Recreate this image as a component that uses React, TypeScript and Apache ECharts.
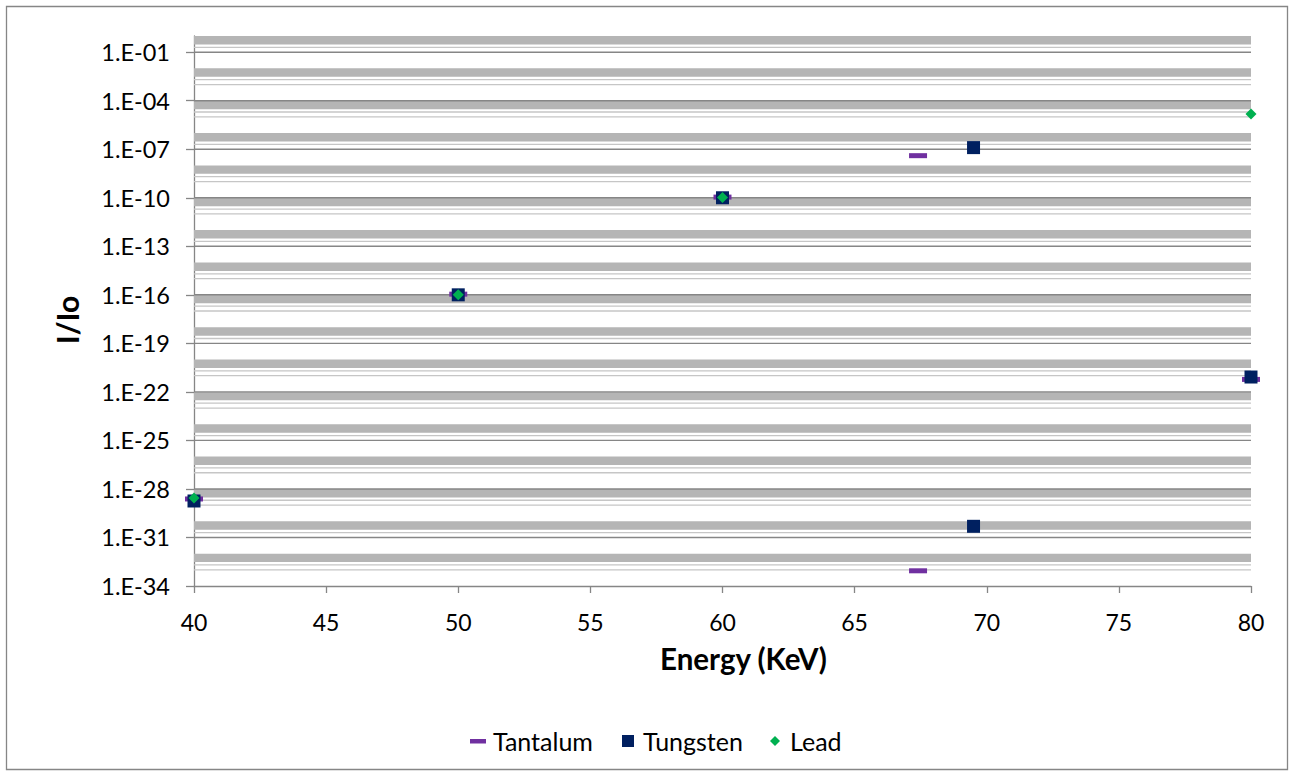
import React, { useEffect, useRef } from 'react';
import * as echarts from 'echarts';

// ---- data ----
const TANTALUM_ENERGY = [40, 50, 60, 67.4, 67.4, 80];
const TANTALUM_RATIO = [2.4e-29, 1.1e-16, 1.1e-10, 4.0e-8, 8.7e-34, 5.9e-22];
const TUNGSTEN_ENERGY = [40, 50, 60, 69.5, 69.5, 80];
const TUNGSTEN_RATIO = [1.8e-29, 1.0e-16, 1.0e-10, 1.26e-7, 4.9e-31, 8.3e-22];
const LEAD_ENERGY = [40, 50, 60, 80];
const LEAD_RATIO = [2.8e-29, 1.0e-16, 1.05e-10, 1.5e-5];

const Y_TICK_LABELS = [
  '1.E-34', '1.E-31', '1.E-28', '1.E-25', '1.E-22', '1.E-19',
  '1.E-16', '1.E-13', '1.E-10', '1.E-07', '1.E-04', '1.E-01',
];
const Y_TICK_VALUES = Y_TICK_LABELS.map((s) => Number(s));
const SERIES_NAMES = ['Tantalum', 'Tungsten', 'Lead'];

const FONT = 'Lato';
const AXIS_GRAY = '#868686';

function pairs(xs: number[], ys: number[]) {
  return xs.map((x, i) => [x, ys[i]]);
}

function expOf(v: number) {
  return Math.round(Math.log10(v));
}

function hLineSeries(name: string, values: number[], color: string, width: number, z: number) {
  return {
    name,
    type: 'custom',
    silent: true,
    z,
    clip: false,
    data: values.map((v) => [40, v]),
    renderItem: (params: any, api: any) => {
      const p = api.coord([api.value(0), api.value(1)]);
      const cs = params.coordSys;
      return {
        type: 'line',
        shape: { x1: cs.x, y1: p[1], x2: cs.x + cs.width, y2: p[1] },
        style: { stroke: color, lineWidth: width, fill: null },
      };
    },
  };
}

export default function App() {
  const ref = useRef<HTMLDivElement>(null);

  useEffect(() => {
    if (!ref.current) return;
    const chart = echarts.init(ref.current, undefined, { renderer: 'svg' });

    // Excel-style minor gridlines (log axis): dense band + two lighter lines every 2 decades
    const majorExps = Y_TICK_VALUES.map(expOf);
    const bandAreas: any[] = [];
    const lightLines: number[] = [];
    for (let e = 0; e >= -32; e -= 2) {
      bandAreas.push([{ yAxis: Math.pow(10, e) }, { yAxis: 3 * Math.pow(10, e - 1) }]);
      lightLines.push(2 * Math.pow(10, e - 1));
      if (majorExps.indexOf(e - 1) < 0) lightLines.push(Math.pow(10, e - 1));
    }
    const majorLines = Y_TICK_VALUES.filter((v) => expOf(v) > -34);

    const option: any = {
      animation: false,
      backgroundColor: '#ffffff',
      textStyle: { fontFamily: FONT },
      grid: { left: 194, right: 43, top: 36, bottom: 190, containLabel: false, outerBoundsMode: 'none' },
      xAxis: {
        type: 'value',
        min: 40,
        max: 80,
        interval: 5,
        axisLine: { show: true, onZero: false, lineStyle: { color: AXIS_GRAY, width: 1.3 } },
        axisTick: { show: true, inside: false, length: 7, lineStyle: { color: AXIS_GRAY, width: 1.3 } },
        axisLabel: { fontSize: 23, color: '#000', margin: 24, fontFamily: FONT },
        splitLine: { show: false },
      },
      yAxis: {
        type: 'log',
        logBase: 10,
        min: 1e-34,
        max: 1,
        axisLine: { show: true, onZero: false, lineStyle: { color: AXIS_GRAY, width: 1.3 } },
        axisTick: { show: true, inside: false, length: 8, customValues: Y_TICK_VALUES, lineStyle: { color: AXIS_GRAY, width: 1.3 } },
        axisLabel: {
          customValues: Y_TICK_VALUES,
          fontSize: 23.5,
          color: '#000',
          margin: 24,
          fontFamily: FONT,
          formatter: (v: number) => {
            const e = expOf(v);
            const i = Y_TICK_VALUES.findIndex((t) => expOf(t) === e);
            return i >= 0 ? Y_TICK_LABELS[i] : '';
          },
        },
        splitLine: { show: false },
        minorTick: { show: false },
        minorSplitLine: { show: false },
      },
      series: [
        {
          name: 'bands',
          type: 'scatter',
          data: [],
          silent: true,
          z: 1,
          markArea: {
            silent: true,
            itemStyle: { color: '#b5b5b5', borderWidth: 0 },
            label: { show: false },
            data: bandAreas,
          },
        },
        hLineSeries('minor lines', lightLines, '#c6c6c6', 1.3, 2),
        hLineSeries('major lines', majorLines, AXIS_GRAY, 1.4, 3),
        {
          name: SERIES_NAMES[0],
          type: 'scatter',
          z: 10,
          clip: false,
          symbol: 'rect',
          symbolSize: [18, 5],
          itemStyle: { color: '#7030a0', opacity: 1 },
          data: pairs(TANTALUM_ENERGY, TANTALUM_RATIO),
        },
        {
          name: SERIES_NAMES[1],
          type: 'scatter',
          z: 11,
          clip: false,
          symbol: 'rect',
          symbolSize: 13,
          itemStyle: { color: '#002060', opacity: 1 },
          data: pairs(TUNGSTEN_ENERGY, TUNGSTEN_RATIO),
        },
        {
          name: SERIES_NAMES[2],
          type: 'scatter',
          z: 12,
          clip: false,
          symbol: 'diamond',
          symbolSize: 11,
          itemStyle: { color: '#00b050', opacity: 1 },
          data: pairs(LEAD_ENERGY, LEAD_RATIO),
        },
      ],
      graphic: [
        {
          type: 'rect',
          silent: true,
          z: -10,
          shape: { x: 6.5, y: 6.5, width: 1281, height: 763 },
          style: { fill: 'none', stroke: AXIS_GRAY, lineWidth: 1.3 },
        },
        {
          type: 'text',
          x: 743.5,
          y: 658,
          style: { text: 'Energy (KeV)', fontSize: 29.5, fontWeight: 'bold', fontFamily: FONT, fill: '#000', textAlign: 'center', textVerticalAlign: 'middle' },
        },
        {
          type: 'text',
          x: 67,
          y: 320,
          rotation: Math.PI / 2,
          style: { text: 'I/Io', fontSize: 30, fontWeight: 'bold', fontFamily: FONT, fill: '#000', textAlign: 'center', textVerticalAlign: 'middle' },
        },
        // legend
        { type: 'rect', shape: { x: 470, y: 739, width: 16, height: 4.5 }, style: { fill: '#7030a0' } },
        { type: 'text', x: 493, y: 741, style: { text: SERIES_NAMES[0], fontSize: 25, fontFamily: FONT, fill: '#000', textAlign: 'left', textVerticalAlign: 'middle' } },
        { type: 'rect', shape: { x: 622, y: 735, width: 12, height: 12 }, style: { fill: '#002060' } },
        { type: 'text', x: 643, y: 741, style: { text: SERIES_NAMES[1], fontSize: 25, fontFamily: FONT, fill: '#000', textAlign: 'left', textVerticalAlign: 'middle' } },
        { type: 'polygon', shape: { points: [[775, 736], [780, 741], [775, 746], [770, 741]] }, style: { fill: '#00b050' } },
        { type: 'text', x: 790, y: 741, style: { text: SERIES_NAMES[2], fontSize: 25, fontFamily: FONT, fill: '#000', textAlign: 'left', textVerticalAlign: 'middle' } },
      ],
    };

    chart.setOption(option);
    return () => {
      chart.dispose();
    };
  }, []);

  return (
    <div
      ref={ref}
      style={{ position: 'fixed', left: 0, top: 0, width: 1294, height: 776, background: '#fff' }}
    />
  );
}
